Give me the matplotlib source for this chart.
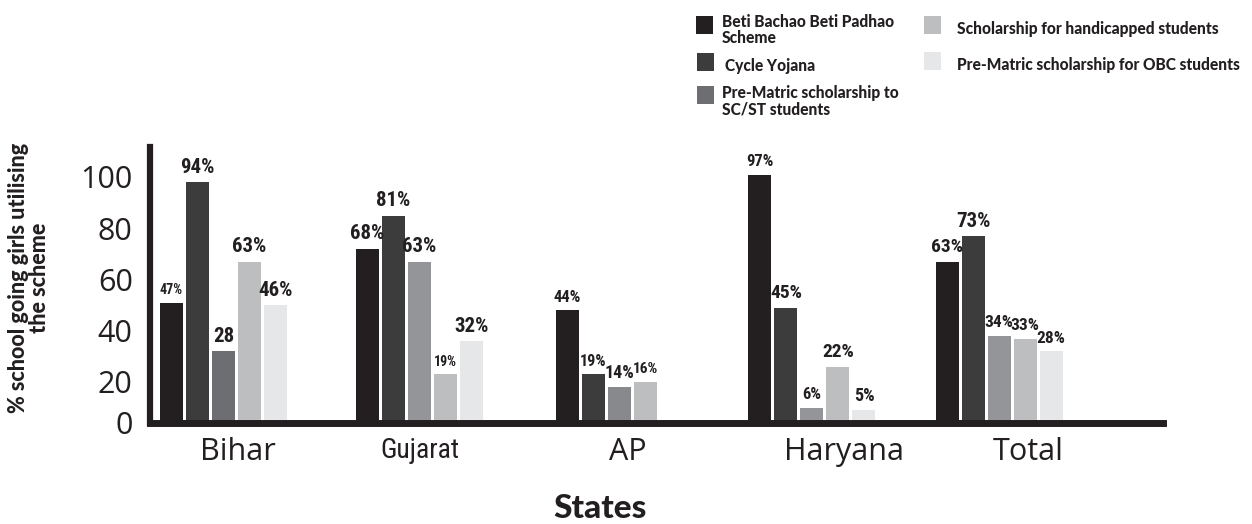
import numpy as np
import matplotlib
matplotlib.use('Agg')
import matplotlib.pyplot as plt
from matplotlib import font_manager as fm
from matplotlib.transforms import ScaledTranslation
from matplotlib.patches import Rectangle

# ---------------- data ----------------
states = ['Bihar', 'Gujarat', 'AP', 'Haryana', 'Total']
schemes = ['Beti Bachao Beti Padhao\nScheme',
           'Cycle Yojana',
           'Pre-Matric scholarship to\nSC/ST students',
           'Scholarship for handicapped students',
           'Pre-Matric scholarship for OBC students']
beti = [47, 68, 44, 97, 63]
cycle = [94, 81, 19, 45, 73]
sc_st = [28, 63, 14, 6, 34]
handicapped = [63, 19, 16, 22, 33]
obc = [46, 32, np.nan, 5, 28]
bar_labels = [
    ['47%', '68%', '44%', '97%', '63%'],
    ['94%', '81%', '19%', '45%', '73%'],
    ['28', '63%', '14%', '6%', '34%'],
    ['63%', '19%', '16%', '22%', '33%'],
    ['46%', '32%', '', '5%', '28%'],
]
y_ticks = [0, 20, 40, 60, 80, 100]

# ---------------- styles / layout ----------------
series = [beti, cycle, sc_st, handicapped, obc]
legend_colors = ['#231f20', '#3c3c3c', '#6d6e71', '#bcbec0', '#e6e7e8']
bar_colors = [
    ['#231f20'] * 5,
    ['#3c3c3c'] * 5,
    ['#6d6e71', '#939598', '#88898c', '#939598', '#939598'],
    ['#bcbec0'] * 5,
    ['#e6e7e8'] * 5,
]
label_sizes = [
    [10, 15, 12, 12, 14],
    [15, 15, 11.5, 14, 15],
    [15, 15, 13, 12, 12.5],
    [15, 10, 11, 14, 12.5],
    [15, 15, 12, 13, 12.5],
]
group_x = np.array([0.0, 7.54, 15.21, 22.63, 29.83])
label_shift = np.array([2.54, 2.02, 2.33, 3.24, 3.11])
bar_w = 0.885


def wnum(w):
    if isinstance(w, (int, float)):
        return w
    return fm.weight_dict.get(str(w).lower(), 400)


fonts_by_name = {}
for f in fm.fontManager.ttflist:
    fonts_by_name.setdefault(f.name, []).append(f)


def pick(cands, default='DejaVu Sans'):
    for c in cands:
        if c in fonts_by_name:
            return c
    return default


def heavy_prop(size):
    # heaviest available upright face among preferred families
    best = None
    for name in ['Lato Black', 'Lato Heavy', 'Roboto Black', 'Inter Black',
                 'Open Sans ExtraBold', 'Noto Sans Black', 'Lato', 'Roboto',
                 'Inter', 'Noto Sans', 'Open Sans']:
        for f in fonts_by_name.get(name, []):
            if f.style != 'normal':
                continue
            w = wnum(f.weight)
            low = f.fname.lower()
            if 'black' in low or 'heavy' in low:
                w = max(w, 900)
            if 'extrabold' in low:
                w = max(w, 800)
            if best is None or w > best[0]:
                best = (w, f.fname)
        if best is not None and best[0] >= 900:
            break
    if best is None:
        return fm.FontProperties(family='DejaVu Sans', weight='bold', size=size)
    return fm.FontProperties(fname=best[1], size=size)


regular = pick(['Open Sans', 'Noto Sans', 'DejaVu Sans'])
narrow = pick(['Liberation Sans Narrow', 'Roboto Condensed', 'Open Sans Condensed', 'DejaVu Sans'])
ink = '#231f20'

W, H = 1252, 524
fig = plt.figure(figsize=(W / 100, H / 100), dpi=100)
ax = fig.add_axes([150 / W, 101 / H, (1163 - 150) / W, 276.5 / H])

for j, vals in enumerate(series):
    for i, v in enumerate(vals):
        if np.isnan(v):
            continue
        x = group_x[i] + j
        ax.bar(x, v, width=bar_w, color=bar_colors[j][i], zorder=2)
        ax.annotate(bar_labels[j][i], (x, v), xytext=(0, 4), textcoords='offset points',
                    ha='center', va='bottom', fontsize=label_sizes[j][i],
                    family=narrow, weight='bold', color=ink)

ax.set_xlim(-0.827, 38.13)
ax.set_ylim(0, 108)

for s in ['top', 'right', 'bottom']:
    ax.spines[s].set_visible(False)
ax.spines['left'].set_linewidth(4.5)
ax.spines['left'].set_color(ink)
ax.axhline(0, color=ink, lw=5, zorder=5, clip_on=False)

ax.set_yticks(y_ticks)
ax.set_yticklabels([str(t) for t in y_ticks], fontsize=22, family=regular, color=ink)
ax.set_yticks(y_ticks[1:], minor=True)
ax.tick_params(axis='y', which='major', length=0, pad=12.5)
ax.tick_params(axis='y', which='minor', length=5, width=7, color=ink, direction='out')
for lab, t in zip(ax.get_yticklabels(), y_ticks):
    if t != 0:
        lab.set_transform(lab.get_transform() + ScaledTranslation(0, -10 / 100, fig.dpi_scale_trans))

ax.set_xticks(group_x + label_shift)
ax.set_xticklabels(states, fontsize=22, family=regular, color=ink)
ax.tick_params(axis='x', length=0, pad=10)
for lab in ax.get_xticklabels():
    if lab.get_text() == 'Gujarat':
        lab.set_family(narrow)
        lab.set_fontsize(20)

# axis titles
fig.text(29 / W, 1 - 278 / H, '% school going girls utilising\nthe scheme', rotation=90,
         ha='center', va='center', multialignment='center',
         fontproperties=heavy_prop(15.5), color=ink, linespacing=1.0)
fig.text(600 / W, 1 - 509 / H, 'States', ha='center', va='center',
         fontproperties=heavy_prop(24), color=ink)

# legend
leg_boxes = [(696, 16), (697, 53), (697, 86), (924, 16), (924, 52)]
leg_text = [(722, 30), (725, 66), (722, 101), (957, 29), (957, 65)]
for k in range(5):
    bx, by = leg_boxes[k]
    fig.add_artist(Rectangle((bx / W, 1 - (by + 18) / H), 17 / W, 18 / H,
                             transform=fig.transFigure, color=legend_colors[k], lw=0))
    tx, ty = leg_text[k]
    fig.text(tx / W, 1 - ty / H, schemes[k], ha='left', va='center',
             fontproperties=heavy_prop(11.2), color=ink, linespacing=1.05)

fig.savefig('out.png', dpi=100)
